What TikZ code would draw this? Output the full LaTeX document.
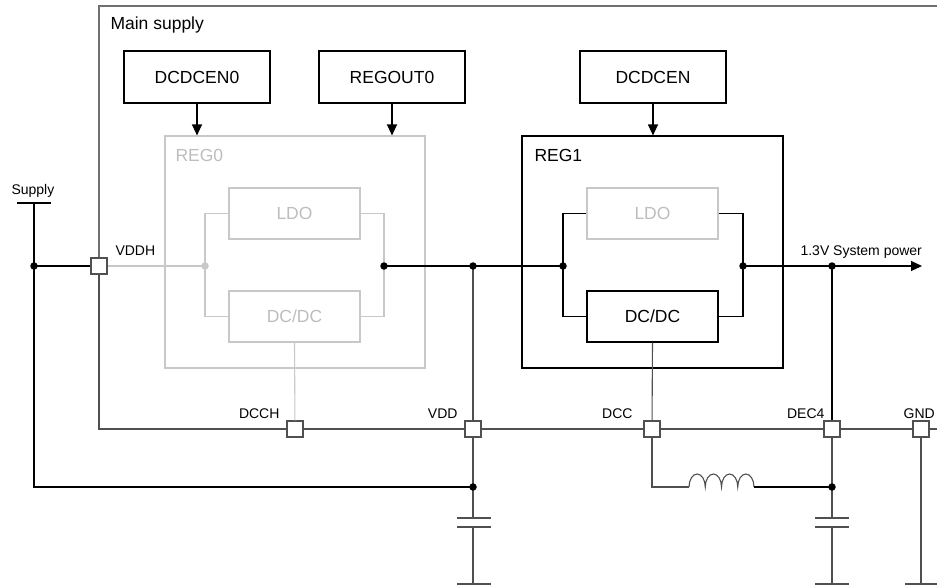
\documentclass[tikz,border=0pt]{standalone}
\usepackage{fontspec}
\setmainfont{Liberation Sans}
\usetikzlibrary{arrows.meta}
\definecolor{lgray}{HTML}{C8C8C8}
\definecolor{lgtext}{HTML}{BDBDBD}
\definecolor{dgray}{HTML}{505050}
\definecolor{mgray}{HTML}{707070}
\tikzset{
  big/.style={font=\fontsize{17.5}{20}\selectfont},
  small/.style={font=\fontsize{14}{16}\selectfont},
  blk/.style={draw=black, line width=1.1pt, minimum width=146pt, minimum height=52pt, inner sep=0pt, big},
  sub/.style={draw=#1, line width=1.1pt, minimum width=131pt, minimum height=51pt, inner sep=0pt, big},
  pin/.style={draw=dgray, fill=white, line width=1.1pt, minimum size=16pt, inner sep=0pt},
  wire/.style={draw=dgray, line width=1.1pt},
  lwire/.style={draw=lgray, line width=1.1pt},
  bwire/.style={draw=black, line width=1.1pt},
  dot/.style={circle, fill=#1, inner sep=0pt, minimum size=7.5pt},
  tip/.style={-{Triangle[length=11pt,width=10pt]}},
}
\begin{document}
\begin{tikzpicture}[x=1pt,y=-1pt]
\useasboundingbox (0,0) rectangle (937,586);
% main supply
\node[pin] (vddh) at (99,266) {};
\node[pin] (dcch) at (295,429) {};
\node[pin] (vdd) at (473,429) {};
\node[pin] (dcc) at (652,429) {};
\node[pin] (dec4) at (832,429) {};
\node[pin] (gnd) at (921,429) {};
\coordinate (mtl) at (99,6);
\coordinate (mtr) at (945,6);
\coordinate (mbl) at (99,429);
\coordinate (mbr) at (945,429);
\draw[draw=mgray, line width=1.4pt] (mtr) -- (mtl) -- (vddh);
\draw[wire] (vddh) -- (mbl) -- (dcch) -- (vdd) -- (dcc) -- (dec4) -- (gnd) -- (mbr);
\node[big, anchor=base west] (mainlbl) at (107,30) {Main supply};
% control boxes
\node[blk] (dcdcen0) at (197,77) {DCDCEN0};
\node[blk] (regout0) at (392,77) {REGOUT0};
\node[blk] (dcdcen) at (653,77) {DCDCEN};
% REG0
\node[draw=lgray, line width=1.1pt, minimum width=260pt, minimum height=232pt, inner sep=0pt] (reg0) at (295,252) {};
\node[big, text=lgtext, anchor=base west] (reg0lbl) at (172,161) {REG0};
\node[sub=lgray, text=lgtext] (ldo0) at (294.5,213.5) {LDO};
\node[sub=lgray, text=lgtext] (dcdc0) at (294.5,316.5) {DC/DC};
% REG1
\node[draw=black, line width=1.1pt, minimum width=261pt, minimum height=232pt, inner sep=0pt] (reg1) at (652.5,252) {};
\node[big, anchor=base west] (reg1lbl) at (531,161) {REG1};
\node[sub=lgray, text=lgtext] (ldo1) at (652.5,213.5) {LDO};
\node[sub=black] (dcdc1) at (652.5,316.5) {DC/DC};
% arrows
\draw[bwire, tip] (dcdcen0) -- (dcdcen0 |- reg0.north);
\draw[bwire, tip] (regout0) -- (regout0 |- reg0.north);
\draw[bwire, tip] (dcdcen) -- (dcdcen |- reg1.north);
% junctions
\coordinate (j0l) at (205,266);
\coordinate (j0r) at (384,266);
\coordinate (jv) at (473,266);
\coordinate (j1l) at (563,266);
\coordinate (j1r) at (743,266);
\coordinate (jo) at (832,266);
\coordinate (outend) at (922,266);
% REG0 internals
\draw[lwire] (ldo0.west) -| (j0l) |- (dcdc0.west);
\draw[lwire] (vddh) -- (j0l);
\draw[lwire] (ldo0.east) -| (j0r) |- (dcdc0.east);
\draw[lwire] (dcdc0.south) -- (dcch);
% REG1 internals
\draw[bwire] (ldo1.west) -| (j1l) |- (dcdc1.west);
\draw[bwire] (ldo1.east) -| (j1r) |- (dcdc1.east);
\draw[wire] (dcdc1.south) -- (dcc);
% main path
\draw[bwire] (j0r) -- (jv) -- (j1l);
\draw[bwire, tip] (j1r) -- (outend);
\node[small, anchor=base west] (outlbl) at (797,255) {1.3V System power};
\draw[wire] (jv) -- (vdd);
\draw[bwire] (jo) -- (dec4);
% supply
\coordinate (sup) at (34,203);
\coordinate (sj) at (34,266);
\coordinate (sb) at (34,487);
\coordinate (vlow) at (473,487);
\draw[bwire] (17,203) -- (51,203);
\node[small, anchor=base west] (suplbl) at (8,194) {Supply};
\draw[bwire] (sup) -- (sb) -- (vlow);
\draw[bwire] (sj) -- (vddh);
\node[small, anchor=base west] (vddhlbl) at (112,255) {VDDH};
% pin labels
\node[small, anchor=base east] (dcchlbl) at (283,418) {DCCH};
\node[small, anchor=base east] (vddlbl) at (461,418) {VDD};
\node[small, anchor=base east] (dcclbl) at (636,418) {DCC};
\node[small, anchor=base east] (dec4lbl) at (828,418) {DEC4};
\node[small, anchor=base east, inner sep=0pt] (gndlbl) at (935,418) {GND};
% VDD cap
\coordinate (vc1) at (473,518);
\coordinate (vc2) at (473,527);
\coordinate (vg) at (473,584);
\draw[wire] (vdd) -- (vlow) -- (vc1);
\draw[wire] (457,518) -- (491,518);
\draw[wire] (457,527) -- (491,527);
\draw[wire] (vc2) -- (vg);
\draw[wire] (457,584) -- (491,584);
% DCC inductor
\coordinate (dlow) at (652,487);
\coordinate (indl) at (689,487);
\coordinate (indr) at (754,487);
\coordinate (declow) at (832,487);
\draw[wire] (dcc) -- (dlow) -- (indl);
\draw[wire] (indl) arc[start angle=180, end angle=0, x radius=8.125pt, y radius=13pt]
  arc[start angle=180, end angle=0, x radius=8.125pt, y radius=13pt]
  arc[start angle=180, end angle=0, x radius=8.125pt, y radius=13pt]
  arc[start angle=180, end angle=0, x radius=8.125pt, y radius=13pt];
\draw[bwire] (indr) -- (declow);
% DEC4 cap
\coordinate (dc1) at (832,518);
\coordinate (dc2) at (832,527);
\coordinate (dg) at (832,584);
\draw[wire] (dec4) -- (declow) -- (dc1);
\draw[wire] (815,518) -- (849,518);
\draw[wire] (815,527) -- (849,527);
\draw[wire] (dc2) -- (dg);
\draw[wire] (815,584) -- (849,584);
% GND
\coordinate (gg) at (921,584);
\draw[wire] (gnd) -- (gg);
\draw[wire] (905,584) -- (940,584);
% dots
\node[dot=lgray] (d0l) at (j0l) {};
\node[dot=black] (d0r) at (j0r) {};
\node[dot=black] (dv) at (jv) {};
\node[dot=black] (d1l) at (j1l) {};
\node[dot=black] (d1r) at (j1r) {};
\node[dot=black] (dout) at (jo) {};
\node[dot=black] (ds) at (sj) {};
\node[dot=black] (dvl) at (vlow) {};
\node[dot=black] (ddl) at (declow) {};
\end{tikzpicture}
\end{document}
